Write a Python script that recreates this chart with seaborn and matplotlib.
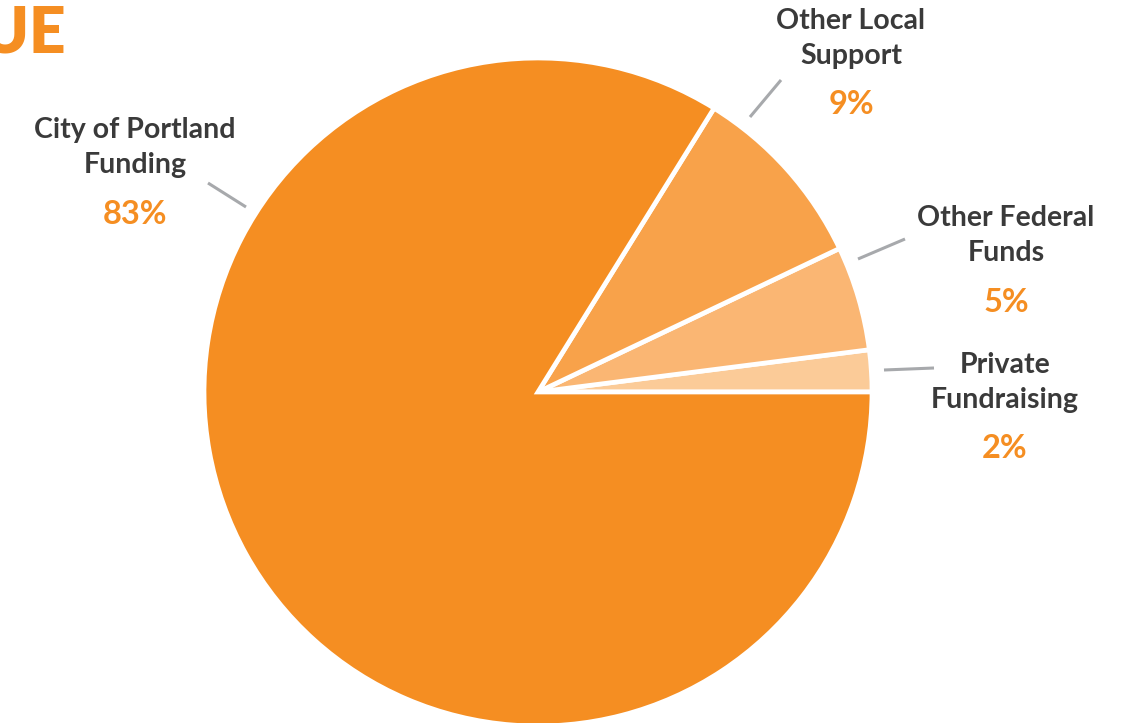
import matplotlib
matplotlib.use("Agg")
import matplotlib.pyplot as plt
import seaborn as sns

# data (counterclockwise from 3 o'clock)
labels = ["Private\nFundraising", "Other Federal\nFunds", "Other Local\nSupport", "City of Portland\nFunding"]
shares = [2, 5, 9, 83]
colors = ["#FBCB98", "#FAB673", "#F8A24A", "#F58E22"]

sns.set_theme(style="white")
plt.rcParams['font.family'] = ['Lato', 'DejaVu Sans']

W, H = 1122, 723
fig = plt.figure(figsize=(W / 100, H / 100), dpi=100)
ax = fig.add_axes([0, 0, 1, 1])
ax.set_xlim(0, W)
ax.set_ylim(0, H)
ax.set_aspect("equal")
ax.axis("off")

cx, cy, r = 538, H - 392, 334
ax.pie(shares, colors=colors, startangle=0, counterclock=True,
       center=(cx, cy), radius=r,
       wedgeprops=dict(edgecolor="white", linewidth=3.4, joinstyle="miter"))
ax.set_xlim(0, W)
ax.set_ylim(0, H)

# label layout, in pixel coords (x center, y of first line)
label_pos = [(1005, 365), (1006, 218), (851, 21), (135, 130)]
leaders = [((884, 370), (934, 368)), ((858, 259), (905, 239)),
           ((750, 117), (781, 80)), ((208, 183), (246, 207))]

dark = "#3A3A3A"
orange = "#F58E22"
for lab, val, (tx, ty), (p0, p1) in zip(labels, shares, label_pos, leaders):
    first, second = lab.split("\n")
    ax.text(tx, H - ty, first, ha="center", va="center", fontsize=20.5,
            fontweight="bold", color=dark)
    ax.text(tx, H - ty - 35, second, ha="center", va="center", fontsize=20.5,
            fontweight="bold", color=dark)
    ax.text(tx, H - ty - 84, f"{val}%", ha="center", va="center", fontsize=23.5,
            fontweight="bold", color=orange)
    ax.plot([p0[0], p1[0]], [H - p0[1], H - p1[1]], color="#A7A9AC", lw=2.2,
            solid_capstyle="butt")

# clipped page heading
ax.text(66, H - 34, "REVENUE", ha="right", va="center", fontsize=46,
        fontweight="heavy", color=orange)

fig.savefig("out.png", dpi=100)
